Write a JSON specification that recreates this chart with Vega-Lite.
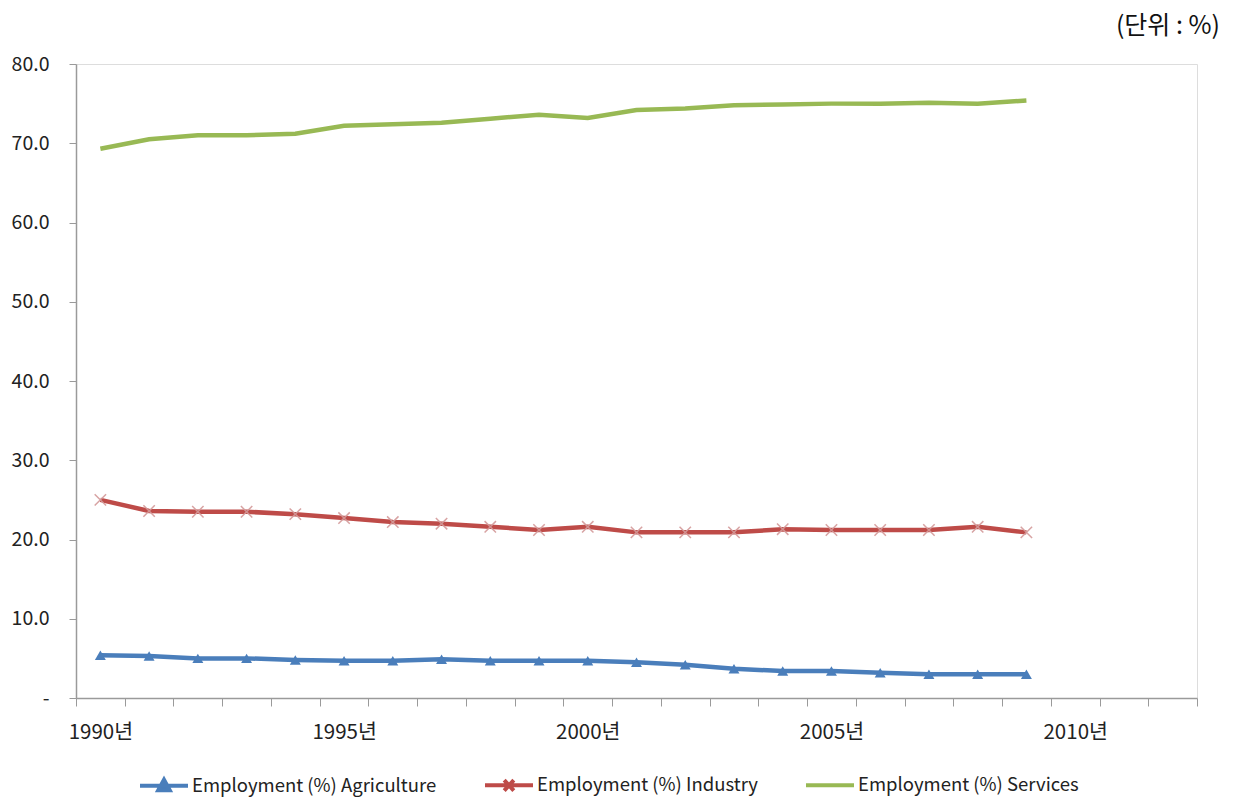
{
  "$schema": "https://vega.github.io/schema/vega-lite/v6.json",
  "width": 1121,
  "height": 634,
  "autosize": {"type": "none"},
  "padding": {"left": 76, "top": 64, "right": 37, "bottom": 99},
  "background": "white",
  "title": {
    "text": "(단위  :  %)",
    "anchor": "end",
    "frame": "group",
    "orient": "top",
    "font": "Noto Sans CJK KR",
    "fontSize": 25,
    "fontWeight": "normal",
    "color": "#111111",
    "dx": 23,
    "offset": 15
  },
  "data": {
    "values": [
      {"year": 1990, "series": "Employment (%) Agriculture", "value": 5.4},
      {"year": 1991, "series": "Employment (%) Agriculture", "value": 5.3},
      {"year": 1992, "series": "Employment (%) Agriculture", "value": 5.0},
      {"year": 1993, "series": "Employment (%) Agriculture", "value": 5.0},
      {"year": 1994, "series": "Employment (%) Agriculture", "value": 4.8},
      {"year": 1995, "series": "Employment (%) Agriculture", "value": 4.7},
      {"year": 1996, "series": "Employment (%) Agriculture", "value": 4.7},
      {"year": 1997, "series": "Employment (%) Agriculture", "value": 4.9},
      {"year": 1998, "series": "Employment (%) Agriculture", "value": 4.7},
      {"year": 1999, "series": "Employment (%) Agriculture", "value": 4.7},
      {"year": 2000, "series": "Employment (%) Agriculture", "value": 4.7},
      {"year": 2001, "series": "Employment (%) Agriculture", "value": 4.5},
      {"year": 2002, "series": "Employment (%) Agriculture", "value": 4.2},
      {"year": 2003, "series": "Employment (%) Agriculture", "value": 3.7},
      {"year": 2004, "series": "Employment (%) Agriculture", "value": 3.4},
      {"year": 2005, "series": "Employment (%) Agriculture", "value": 3.4},
      {"year": 2006, "series": "Employment (%) Agriculture", "value": 3.2},
      {"year": 2007, "series": "Employment (%) Agriculture", "value": 3.0},
      {"year": 2008, "series": "Employment (%) Agriculture", "value": 3.0},
      {"year": 2009, "series": "Employment (%) Agriculture", "value": 3.0},
      {"year": 1990, "series": "Employment (%) Industry", "value": 25.0},
      {"year": 1991, "series": "Employment (%) Industry", "value": 23.6},
      {"year": 1992, "series": "Employment (%) Industry", "value": 23.5},
      {"year": 1993, "series": "Employment (%) Industry", "value": 23.5},
      {"year": 1994, "series": "Employment (%) Industry", "value": 23.2},
      {"year": 1995, "series": "Employment (%) Industry", "value": 22.7},
      {"year": 1996, "series": "Employment (%) Industry", "value": 22.2},
      {"year": 1997, "series": "Employment (%) Industry", "value": 22.0},
      {"year": 1998, "series": "Employment (%) Industry", "value": 21.6},
      {"year": 1999, "series": "Employment (%) Industry", "value": 21.2},
      {"year": 2000, "series": "Employment (%) Industry", "value": 21.6},
      {"year": 2001, "series": "Employment (%) Industry", "value": 20.9},
      {"year": 2002, "series": "Employment (%) Industry", "value": 20.9},
      {"year": 2003, "series": "Employment (%) Industry", "value": 20.9},
      {"year": 2004, "series": "Employment (%) Industry", "value": 21.3},
      {"year": 2005, "series": "Employment (%) Industry", "value": 21.2},
      {"year": 2006, "series": "Employment (%) Industry", "value": 21.2},
      {"year": 2007, "series": "Employment (%) Industry", "value": 21.2},
      {"year": 2008, "series": "Employment (%) Industry", "value": 21.6},
      {"year": 2009, "series": "Employment (%) Industry", "value": 20.9},
      {"year": 1990, "series": "Employment (%) Services", "value": 69.3},
      {"year": 1991, "series": "Employment (%) Services", "value": 70.5},
      {"year": 1992, "series": "Employment (%) Services", "value": 71.0},
      {"year": 1993, "series": "Employment (%) Services", "value": 71.0},
      {"year": 1994, "series": "Employment (%) Services", "value": 71.2},
      {"year": 1995, "series": "Employment (%) Services", "value": 72.2},
      {"year": 1996, "series": "Employment (%) Services", "value": 72.4},
      {"year": 1997, "series": "Employment (%) Services", "value": 72.6},
      {"year": 1998, "series": "Employment (%) Services", "value": 73.1},
      {"year": 1999, "series": "Employment (%) Services", "value": 73.6},
      {"year": 2000, "series": "Employment (%) Services", "value": 73.2},
      {"year": 2001, "series": "Employment (%) Services", "value": 74.2},
      {"year": 2002, "series": "Employment (%) Services", "value": 74.4},
      {"year": 2003, "series": "Employment (%) Services", "value": 74.8},
      {"year": 2004, "series": "Employment (%) Services", "value": 74.9},
      {"year": 2005, "series": "Employment (%) Services", "value": 75.0},
      {"year": 2006, "series": "Employment (%) Services", "value": 75.0},
      {"year": 2007, "series": "Employment (%) Services", "value": 75.1},
      {"year": 2008, "series": "Employment (%) Services", "value": 75.0},
      {"year": 2009, "series": "Employment (%) Services", "value": 75.4}
    ]
  },
  "encoding": {
    "x": {
      "field": "year",
      "type": "quantitative",
      "scale": {"domain": [1989.5, 2012.5], "nice": false, "zero": false},
      "axis": {
        "title": null,
        "grid": false,
        "values": [1989.5, 1990.5, 1991.5, 1992.5, 1993.5, 1994.5, 1995.5, 1996.5, 1997.5, 1998.5, 1999.5, 2000.5, 2001.5, 2002.5, 2003.5, 2004.5, 2005.5, 2006.5, 2007.5, 2008.5, 2009.5, 2010.5, 2011.5, 2012.5],
        "labelExpr": "(datum.value + 0.5) % 5 == 0 ? (datum.value + 0.5) + '년' : ''",
        "labelOffset": 24.4,
        "labelFont": "Noto Sans CJK KR",
        "labelFontSize": 20.5,
        "labelColor": "#222222",
        "labelPadding": 16,
        "labelFlush": false,
        "labelOverlap": false,
        "tickSize": 8,
        "tickColor": "#9a9a9a",
        "domainColor": "#9a9a9a",
        "domainWidth": 1.5,
        "tickWidth": 1
      }
    },
    "y": {
      "field": "value",
      "type": "quantitative",
      "scale": {"domain": [0, 80], "nice": false},
      "axis": {
        "title": null,
        "grid": false,
        "values": [0, 10, 20, 30, 40, 50, 60, 70, 80],
        "labelExpr": "datum.value == 0 ? '-' : format(datum.value, '.1f')",
        "labelFont": "Noto Sans CJK KR",
        "labelFontSize": 19.5,
        "labelColor": "#222222",
        "labelPadding": 20,
        "tickSize": 7,
        "tickColor": "#9a9a9a",
        "domainColor": "#9a9a9a",
        "domainWidth": 1.5
      }
    }
  },
  "layer": [
    {
      "mark": {"type": "line", "strokeWidth": 4.5, "interpolate": "linear"},
      "encoding": {
        "color": {
          "field": "series",
          "type": "nominal",
          "scale": {
            "domain": ["Employment (%) Agriculture", "Employment (%) Industry", "Employment (%) Services"],
            "range": ["#4a7ebb", "#be4b48", "#98b954"]
          },
          "legend": {
            "title": null,
            "orient": "none",
            "direction": "horizontal",
            "legendX": 62,
            "legendY": 695,
            "columnPadding": 40,
            "symbolSize": 2304,
            "symbolStrokeWidth": 4,
            "labelOffset": 2,
            "labelFont": "Noto Sans CJK KR",
            "labelFontSize": 18.5,
            "labelColor": "#222222",
            "labelLimit": 400,
            "encode": {
              "symbols": {
                "update": {
                  "shape": {"signal": "datum.value === 'Employment (%) Agriculture' ? 'M-1,0H1M0,-0.26L0.24,0.18L-0.24,0.18Z' : (datum.value === 'Employment (%) Industry' ? 'M-1,0H1M-0.2,-0.22L0.2,0.22M0.2,-0.22L-0.2,0.22' : 'M-1,0H1M0,-0.22L0,-0.22M0,0.22L0,0.22')"},
                  "fill": {"signal": "datum.value === 'Employment (%) Agriculture' ? '#4a7ebb' : 'transparent'"},
                  "stroke": {"signal": "datum.value === 'Employment (%) Agriculture' ? '#4a7ebb' : (datum.value === 'Employment (%) Industry' ? '#be4b48' : '#98b954')"},
                  "strokeWidth": {"value": 4}
                }
              }
            }
          }
        }
      }
    },
    {
      "transform": [{"filter": "datum.series === 'Employment (%) Agriculture'"}],
      "mark": {"type": "point", "shape": "triangle-up", "filled": true, "size": 120, "color": "#4a7ebb", "opacity": 1},
      "encoding": {}
    },
    {
      "transform": [{"filter": "datum.series === 'Employment (%) Industry'"}],
      "mark": {"type": "point", "shape": "M-1,-1L1,1M1,-1L-1,1", "filled": false, "size": 130, "color": "#d49a9a", "strokeWidth": 1.5, "opacity": 0.9},
      "encoding": {}
    }
  ]
}
